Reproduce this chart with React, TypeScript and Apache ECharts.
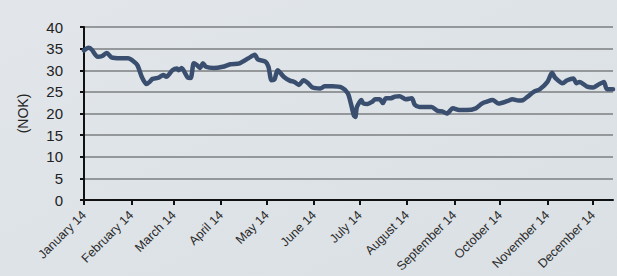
import React, { useEffect, useRef } from "react";
import * as echarts from "echarts";

const dates: string[] = [
  "2014-01-01", "2014-01-04", "2014-01-06", "2014-01-10", "2014-01-13", "2014-01-16", "2014-01-19", "2014-01-25", "2014-01-30",
  "2014-02-02", "2014-02-05", "2014-02-08", "2014-02-11", "2014-02-13", "2014-02-15", "2014-02-19", "2014-02-22", "2014-02-24", "2014-02-28",
  "2014-03-03", "2014-03-04", "2014-03-06", "2014-03-10", "2014-03-12", "2014-03-14", "2014-03-16", "2014-03-18", "2014-03-20", "2014-03-22", "2014-03-27",
  "2014-04-02", "2014-04-07", "2014-04-13", "2014-04-19", "2014-04-23", "2014-04-25", "2014-04-30",
  "2014-05-02", "2014-05-04", "2014-05-06", "2014-05-08", "2014-05-12", "2014-05-16", "2014-05-19", "2014-05-22", "2014-05-25", "2014-05-28", "2014-05-31",
  "2014-06-05", "2014-06-08", "2014-06-13", "2014-06-19", "2014-06-23", "2014-06-25", "2014-06-27", "2014-06-28", "2014-06-29",
  "2014-07-02", "2014-07-03", "2014-07-06", "2014-07-09", "2014-07-11", "2014-07-14", "2014-07-16", "2014-07-18", "2014-07-21", "2014-07-24", "2014-07-27", "2014-07-31",
  "2014-08-04", "2014-08-06", "2014-08-09", "2014-08-17", "2014-08-21", "2014-08-24", "2014-08-27", "2014-08-31",
  "2014-09-04", "2014-09-09", "2014-09-15", "2014-09-19", "2014-09-22", "2014-09-26", "2014-09-30",
  "2014-10-06", "2014-10-09", "2014-10-13", "2014-10-16", "2014-10-19", "2014-10-23", "2014-10-27",
  "2014-11-01", "2014-11-04", "2014-11-06", "2014-11-11", "2014-11-14", "2014-11-18", "2014-11-20", "2014-11-22", "2014-11-27",
  "2014-12-01", "2014-12-04", "2014-12-08", "2014-12-10", "2014-12-14",
];

const prices: number[] = [
  34.6, 35.2, 34.8, 33.1, 33.3, 34.0, 33.0, 32.8, 32.8,
  32.2, 31.2, 28.4, 26.8, 27.3, 28.0, 28.3, 28.9, 28.5, 30.0,
  30.4, 30.0, 30.5, 28.3, 28.2, 31.6, 31.2, 30.5, 31.6, 30.8, 30.5,
  30.8, 31.4, 31.6, 32.8, 33.6, 32.5, 32.0,
  30.8, 27.7, 27.9, 30.0, 28.5, 27.6, 27.3, 26.6, 27.7, 27.0, 26.0,
  25.8, 26.3, 26.3, 26.0, 24.7, 22.4, 19.6, 19.2, 21.5,
  23.1, 22.4, 22.2, 22.7, 23.3, 23.3, 22.4, 23.5, 23.5, 23.9, 24.0, 23.3,
  23.5, 22.0, 21.5, 21.5, 20.6, 20.5, 20.0, 21.2,
  20.8, 20.8, 21.2, 22.3, 22.7, 23.1, 22.3,
  22.9, 23.3, 23.0, 23.1, 23.9, 25.0, 25.6,
  27.3, 29.4, 28.3, 27.0, 27.7, 28.1, 27.0, 27.3, 26.2,
  26.0, 26.6, 27.3, 25.6, 25.6,
];

const monthLabels: string[] = [
  "January 14", "February 14", "March 14", "April 14", "May 14", "June 14",
  "July 14", "August 14", "September 14", "October 14", "November 14", "December 14",
];

const firstDay = "2014-01-01";
const lastDay = "2014-12-14";
const yTicks: number[] = [0, 5, 10, 15, 20, 25, 30, 35, 40];

const DAY = 86400000;
const dayOf = (s: string) => {
  const [y, m, d] = s.split("-").map(Number);
  return Math.round((Date.UTC(y, m - 1, d) - Date.UTC(2014, 0, 1)) / DAY);
};

export default function App() {
  const ref = useRef<HTMLDivElement>(null);
  useEffect(() => {
    if (!ref.current) return;
    const chart = echarts.init(ref.current, undefined, { renderer: "svg" });
    const monthStarts = monthLabels.map((_, i) =>
      Math.round((Date.UTC(2014, i, 1) - Date.UTC(2014, 0, 1)) / DAY)
    );
    const font = "Liberation Sans, Arial, sans-serif";
    chart.setOption({
      animation: false,
      backgroundColor: new echarts.graphic.LinearGradient(0, 0, 1, 1, [
        { offset: 0, color: "#e2e6ea" },
        { offset: 1, color: "#dae0e4" },
      ]),
      grid: { left: 84, right: 4, top: 27, bottom: 76, containLabel: false },
      xAxis: {
        type: "value",
        min: dayOf(firstDay),
        max: dayOf(lastDay),
        axisLine: { show: true, lineStyle: { color: "#111", width: 2 } },
        axisTick: { show: true, length: 5, lineStyle: { color: "#111", width: 2 }, customValues: monthStarts },
        axisLabel: {
          customValues: monthStarts,
          rotate: 45,
          margin: 13,
          fontSize: 12.5,
          fontFamily: font,
          color: "#2a2a2a",
          formatter: (v: number) => {
            const i = monthStarts.indexOf(Math.round(v));
            return i >= 0 ? monthLabels[i] : "";
          },
        },
        splitLine: { show: false },
      },
      yAxis: {
        type: "value",
        min: yTicks[0],
        max: yTicks[yTicks.length - 1],
        interval: 5,
        name: "(NOK)",
        nameLocation: "middle",
        nameGap: 54,
        nameRotate: 90,
        nameTextStyle: { fontSize: 14, fontFamily: font, color: "#222" },
        axisLine: { show: true, lineStyle: { color: "#111", width: 2 } },
        axisTick: { show: true, length: 4, lineStyle: { color: "#111", width: 2 } },
        axisLabel: { margin: 21, fontSize: 15, fontFamily: font, color: "#222" },
        splitLine: { show: true, lineStyle: { color: "#7d7f80", width: 1.5 } },
      },
      series: [
        {
          type: "line",
          data: dates.map((d, i) => [dayOf(d), prices[i]]),
          showSymbol: false,
          smooth: 0.25,
          lineStyle: { color: "#3a4f70", width: 4.5, cap: "round", join: "round" },
        },
      ],
    });
    return () => chart.dispose();
  }, []);
  return (
    <div
      ref={ref}
      style={{ position: "absolute", left: 0, top: 0, width: 617, height: 276 }}
    />
  );
}
